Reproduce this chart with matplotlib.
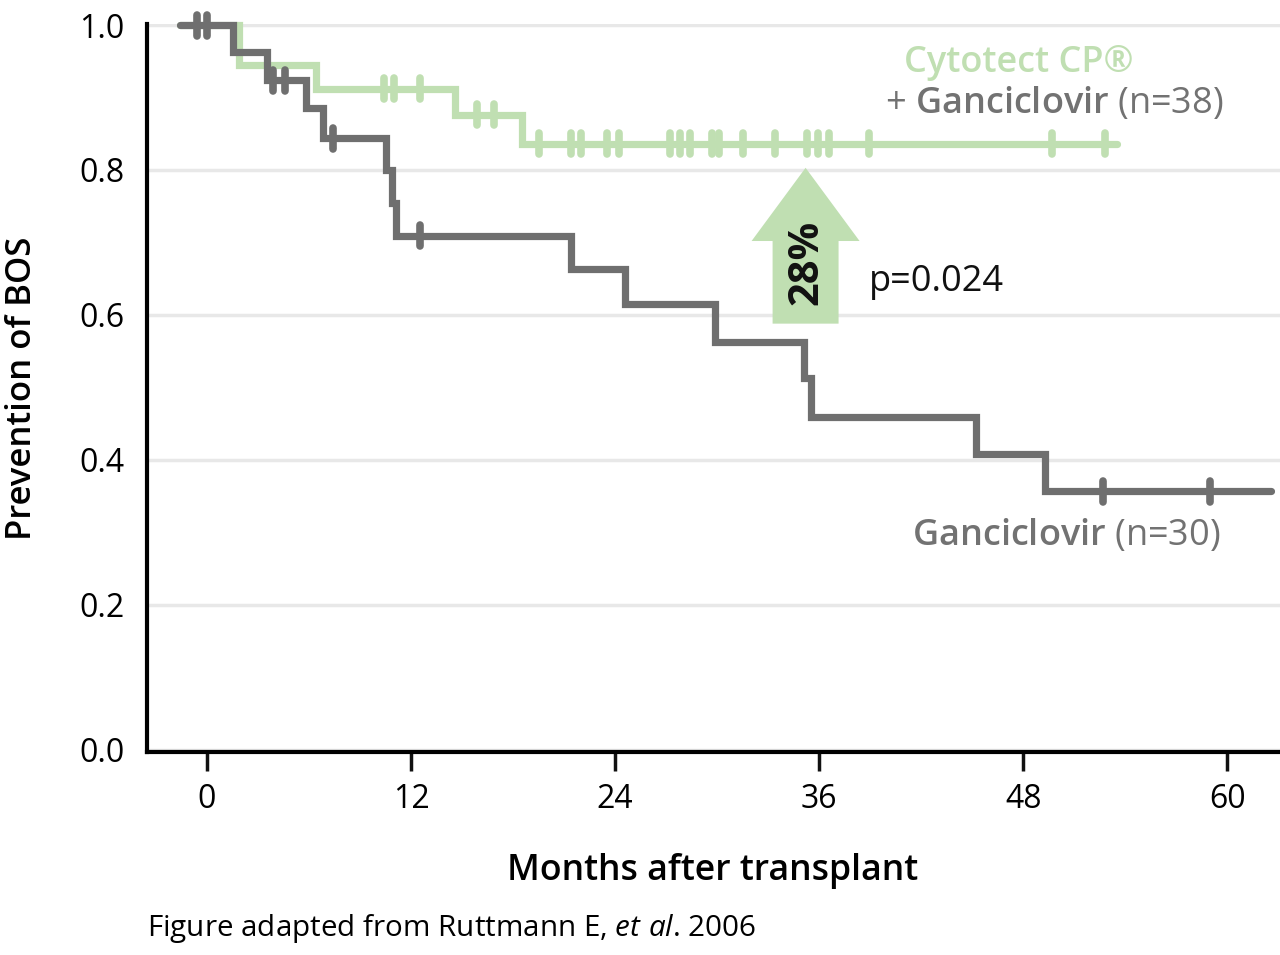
import numpy as np
import matplotlib
matplotlib.use('Agg')
import matplotlib.pyplot as plt
from matplotlib.patches import FancyArrow

plt.rcParams['font.family'] = ['Open Sans', 'DejaVu Sans']
plt.rcParams['mathtext.fontset'] = 'custom'
plt.rcParams['mathtext.rm'] = 'Open Sans'
plt.rcParams['mathtext.bf'] = 'Open Sans:semibold'
plt.rcParams['mathtext.it'] = 'Open Sans:italic'

# Ganciclovir (n=30): шаги кривой Каплана-Мейера
gan_start, gan_end = -1.6, 62.6
gan_times = [1.5, 3.5, 5.8, 6.8, 10.5, 10.9, 11.1, 21.4, 24.6, 29.9, 35.1, 35.5, 45.2, 49.3]
gan_surv = [0.963, 0.924, 0.886, 0.844, 0.800, 0.754, 0.709, 0.663, 0.615, 0.563, 0.513, 0.459, 0.408, 0.357]
gan_censor = [-0.6, 0.0, 3.9, 4.6, 7.4, 12.5, 52.7, 59.0]

# Cytotect CP + Ganciclovir (n=38)
cyt_start, cyt_end = -1.6, 53.5
cyt_times = [1.9, 6.4, 14.6, 18.5]
cyt_surv = [0.945, 0.912, 0.876, 0.836]
cyt_censor = [10.4, 11.0, 12.5, 15.9, 16.9, 19.5, 21.4, 22.0, 23.5, 24.25, 27.2, 27.8, 28.4,
              29.7, 30.1, 31.5, 33.4, 35.3, 35.95, 36.6, 38.95, 49.7, 52.8]

x_ticks = [0, 12, 24, 36, 48, 60]
y_ticks = [0.0, 0.2, 0.4, 0.6, 0.8, 1.0]

# стрелка разницы
arrow_x = 35.2
arrow_from, arrow_to = 0.588, 0.803

gray = '#6f6f6f'
green = '#c0dfb2'
text_gray = '#727272'


def level_at(times, surv, t):
    levels = [1.0] + list(surv)
    return np.array([levels[np.searchsorted(times, v, side='right')] for v in t])


def km_curve(ax, start, end, times, surv, censor, color, z):
    xs = [start] + list(times) + [end]
    ys = [1.0] + list(surv) + [surv[-1]]
    ax.step(xs, ys, where='post', color=color, lw=5.2, solid_capstyle='round',
            solid_joinstyle='miter', zorder=z, clip_on=False)
    cy = level_at(times, surv, censor)
    ax.vlines(censor, cy - 0.0145, cy + 0.0145, color=color, lw=5.5,
              capstyle='round', zorder=z, clip_on=False)


fig = plt.figure(figsize=(12.8, 9.55), dpi=100)
ax = fig.add_axes([147 / 1280, 1 - 752 / 955, 1 - 147 / 1280, (752 - 24) / 955])

km_curve(ax, cyt_start, cyt_end, cyt_times, cyt_surv, cyt_censor, green, 3)
km_curve(ax, gan_start, gan_end, gan_times, gan_surv, gan_censor, gray, 4)

ax.add_patch(FancyArrow(arrow_x, arrow_from, 0, arrow_to - arrow_from, width=3.88,
                        head_width=6.35, head_length=0.101, length_includes_head=True,
                        color=green, lw=0, zorder=2))
ax.text(arrow_x + 0.1, 0.673, '28%', rotation=90, ha='center', va='center',
        fontsize=30, fontweight='bold', color='#111111', zorder=5)
ax.text(38.9, 0.633, 'p=0.024', ha='left', va='baseline', fontsize=26, color='#111111')

ax.text(54.5, 0.935, 'Cytotect CP®', ha='right', va='baseline', fontsize=26,
        fontweight='semibold', color=green)
ax.text(59.8, 0.879, r'+ $\mathbf{Ganciclovir}$ (n=38)', ha='right', va='baseline',
        fontsize=26, color=text_gray)
ax.text(59.6, 0.283, r'$\mathbf{Ganciclovir}$ (n=30)', ha='right', va='baseline',
        fontsize=26, color=text_gray)

ax.set_xlim(-3.53, 63.1)
ax.set_ylim(-0.003, 1.0014)
ax.set_xticks(x_ticks)
ax.set_yticks(y_ticks)
ax.set_yticklabels([f'{v:.1f}' for v in y_ticks])
ax.tick_params(axis='x', length=14, width=2.5, pad=8, labelsize=23, color='#111111')
ax.tick_params(axis='y', length=0, pad=16, labelsize=23)

ax.yaxis.grid(True, color='#e8e8e8', lw=2.5)
ax.set_axisbelow(True)
for s in ['top', 'right']:
    ax.spines[s].set_visible(False)
for s in ['left', 'bottom']:
    ax.spines[s].set_linewidth(3)
    ax.spines[s].set_color('#000000')

fig.text(22 / 1280, 1 - 388 / 955, 'Prevention of BOS', rotation=90, ha='center',
         va='center', fontsize=25, fontweight='semibold')
fig.text(713 / 1280, 1 - 880 / 955, 'Months after transplant', ha='center',
         va='baseline', fontsize=25.7, fontweight='semibold')
fig.text(147 / 1280, 1 - 936 / 955, r'Figure adapted from Ruttmann E, $\mathit{et\ al}$. 2006',
         ha='left', va='baseline', fontsize=21.3)

fig.savefig('out.png', dpi=100)
